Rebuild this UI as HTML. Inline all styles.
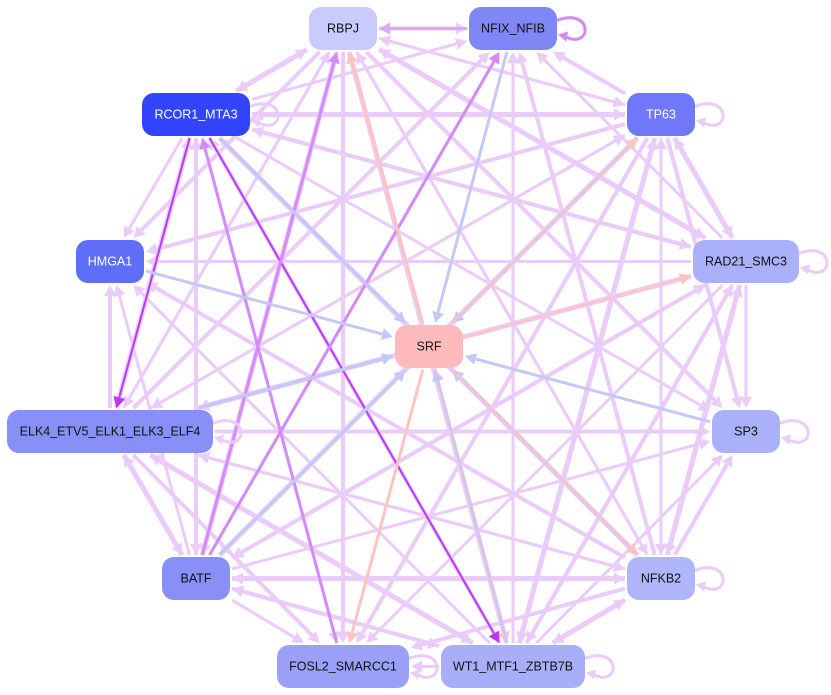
<!DOCTYPE html>
<html><head><meta charset="utf-8"><style>
html,body{margin:0;padding:0;background:#fff;width:831px;height:695px;overflow:hidden}
svg{display:block}
text{font-family:"Liberation Sans",Arial,sans-serif;font-size:12.5px;text-anchor:middle;dominant-baseline:central}
</style></head><body>
<svg id="s" width="831" height="695" xmlns="http://www.w3.org/2000/svg">
<g id="e"></g><g id="n"></g>
</svg>
<script>
var N={
RBPJ:[309,7,68,43,'#c8ccfc','#111'],
NFIX_NFIB:[469,7,88,43,'#7f86f6','#111'],
RCOR1_MTA3:[142,93,108,43,'#3344ff','#fff'],
TP63:[627,93,68,43,'#6f78f8','#fff'],
HMGA1:[76,240,68,43,'#5f6ef8','#fff'],
RAD21_SMC3:[693,240,106,43,'#aab0fa','#111'],
SRF:[395,325,68,43,'#ffbbbb','#111'],
ELK4_ETV5_ELK1_ELK3_ELF4:[7,410,206,43,'#8890f8','#111'],
SP3:[712,410,68,43,'#aab0fa','#111'],
BATF:[162,557,68,43,'#8890f8','#111'],
NFKB2:[627,557,68,43,'#b0b6fa','#111'],
FOSL2_SMARCC1:[277,645,132,43,'#9aa0f8','#111'],
WT1_MTF1_ZBTB7B:[441,645,144,43,'#a8aef8','#111']};
var names=Object.keys(N).filter(function(k){return k!='SRF'});
var E=[];
var L='#ebcbfa';
for(var i=0;i<names.length;i++)for(var j=0;j<names.length;j++){if(i==j)continue;
 if((i*7+j*3)%3!=1) E.push([names[i],names[j],L,3+((i+j)%3)]);}
var P='#b83af5',M='#d48af8',B='#c4c8f8',R='#ffc4c0';
E.push(['RCOR1_MTA3','ELK4_ETV5_ELK1_ELK3_ELF4',P,2]);
E.push(['RCOR1_MTA3','WT1_MTF1_ZBTB7B',P,2]);
E.push(['BATF','NFIX_NFIB',M,3]);
E.push(['BATF','RBPJ',M,3]);
E.push(['FOSL2_SMARCC1','RCOR1_MTA3',M,3]);
E.push(['NFIX_NFIB','RBPJ','#dca8fa',3]);
['RCOR1_MTA3','HMGA1','ELK4_ETV5_ELK1_ELK3_ELF4','BATF','SP3','NFKB2','TP63','NFIX_NFIB'].forEach(function(k){E.push([k,'SRF',B,3]);});
E.push(['SRF','RBPJ',R,3]);E.push(['SRF','FOSL2_SMARCC1',R,3]);E.push(['SRF','WT1_MTF1_ZBTB7B',R,3]);
E.push(['SRF','RAD21_SMC3',R,2]);E.push(['SRF','NFKB2',R,2]);E.push(['WT1_MTF1_ZBTB7B','SRF',B,2]);E.push(['SRF','TP63',R,2]);
function c(k){var a=N[k];return[a[0]+a[2]/2,a[1]+a[3]/2];}
function clip(k,dx,dy){var a=N[k];var hw=a[2]/2+2,hh=a[3]/2+2;var t=Math.min(Math.abs(dx)>1e-6?hw/Math.abs(dx):1e9,Math.abs(dy)>1e-6?hh/Math.abs(dy):1e9);return t;}
var g=document.getElementById('e'),h='';
E.forEach(function(e){var p=c(e[0]),q=c(e[1]);var dx=q[0]-p[0],dy=q[1]-p[1];
 var t0=clip(e[0],dx,dy),t1=clip(e[1],dx,dy);
 var x1=p[0]+dx*t0,y1=p[1]+dy*t0,x2=q[0]-dx*t1,y2=q[1]-dy*t1;
 var len=Math.hypot(x2-x1,y2-y1),ux=(x2-x1)/len,uy=(y2-y1)/len;
 var al=11,aw=6;var bx=x2-ux*al,by=y2-uy*al;
 h+='<line x1="'+x1+'" y1="'+y1+'" x2="'+bx+'" y2="'+by+'" stroke="'+e[2]+'" stroke-width="'+e[3]+'"/>';
 h+='<polygon points="'+x2+','+y2+' '+(bx-uy*aw)+','+(by+ux*aw)+' '+(bx+uy*aw)+','+(by-ux*aw)+'" fill="'+e[2]+'"/>';});
['RCOR1_MTA3','NFIX_NFIB','TP63','RAD21_SMC3','SP3','NFKB2','WT1_MTF1_ZBTB7B','FOSL2_SMARCC1','ELK4_ETV5_ELK1_ELK3_ELF4'].forEach(function(k){var a=N[k];var x=a[0]+a[2],y=a[1]+a[3]/2;
 var col=k=='NFIX_NFIB'?'#d28af8':L;
 h+='<path d="M'+(x)+','+(y-8)+' C'+(x+36)+','+(y-22)+' '+(x+36)+','+(y+22)+' '+(x+8)+','+(y+8)+'" fill="none" stroke="'+col+'" stroke-width="3"/>';
 h+='<polygon points="'+(x+1)+','+(y+6)+' '+(x+11)+','+(y+3)+' '+(x+9)+','+(y+13)+'" fill="'+col+'"/>';});
g.innerHTML=h;
var n='';
Object.keys(N).forEach(function(k){var a=N[k];n+='<rect x="'+a[0]+'" y="'+a[1]+'" width="'+a[2]+'" height="'+a[3]+'" rx="12" fill="'+a[4]+'"/><text x="'+(a[0]+a[2]/2)+'" y="'+(a[1]+a[3]/2)+'" fill="'+a[5]+'">'+k+'</text>';});
document.getElementById('n').innerHTML=n;
</script>
</body></html>
